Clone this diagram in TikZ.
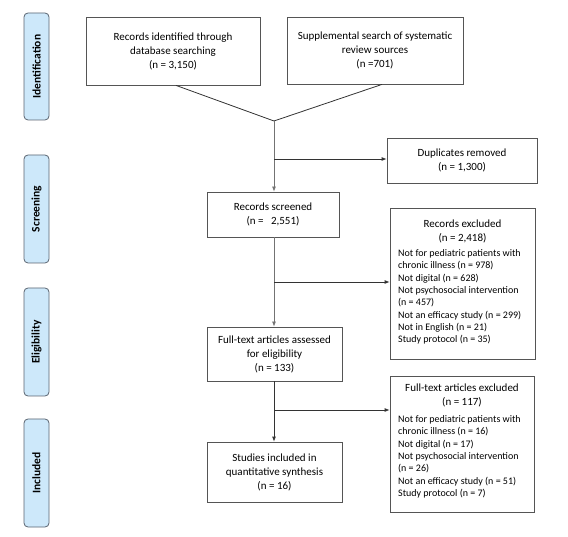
\documentclass[tikz,border=0pt]{standalone}
\usepackage{fontspec}
\setmainfont{Carlito}
\usetikzlibrary{calc,arrows.meta}
\definecolor{sidefill}{HTML}{CDE8FA}
\definecolor{sidedraw}{HTML}{5A6470}
\definecolor{boxdraw}{HTML}{555555}
\tikzset{
  flowbox/.style={draw=boxdraw, line width=0.8pt, align=center, inner sep=2pt,
    font=\fontsize{11}{14}\selectfont},
  sidebox/.style={draw=sidedraw, fill=sidefill, rounded corners=4pt, line width=0.8pt,
    minimum width=107pt, minimum height=25pt, rotate=90,
    font=\fontsize{11.5}{14}\selectfont\bfseries},
  exclbox/.style={draw=boxdraw, line width=0.8pt, inner sep=0pt},
  conn/.style={line width=0.8pt, draw=black!80},
  arr/.style={conn, -{Latex[length=5pt,width=4pt]}},
}
\begin{document}
\begin{tikzpicture}[x=1pt,y=-1pt]
\useasboundingbox (0,0) rectangle (568,537);
% side labels
\node[sidebox] (sid) at (36.5,66.5) {Identification};
\node[sidebox, minimum width=108pt] (sscr) at (36.5,209) {Screening};
\node[sidebox, minimum width=108pt] (selg) at (36.5,342) {Eligibility};
\node[sidebox, minimum width=108pt] (sinc) at (36.5,473) {Included};
% main boxes
\node[flowbox, minimum width=174pt, minimum height=68pt] (b1) at (173,51)
  {Records identified through\\database searching\\(n = 3,150)};
\node[flowbox, minimum width=176pt, minimum height=67pt] (b2) at (375,50.5)
  {Supplemental search of systematic\\review sources\\(n =701)};
\node[flowbox, minimum width=150pt, minimum height=45pt] (dup) at (462,160.5)
  {Duplicates removed\\(n = 1,300)};
\node[flowbox, minimum width=132pt, minimum height=45pt] (scr) at (273,214.5)
  {Records screened\\(n = ~ 2,551)};
\node[flowbox, minimum width=135pt, minimum height=54pt] (ft) at (274.5,354)
  {Full-text articles assessed\\for eligibility\\(n = 133)};
\node[flowbox, minimum width=135pt, minimum height=60pt] (inc) at (274.5,472)
  {Studies included in\\quantitative synthesis\\(n = 16)};
% exclusion boxes
\node[exclbox, minimum width=145pt, minimum height=151pt] (exc) at (462.5,283.5) {};
\node[anchor=north, align=center, font=\fontsize{11}{14}\selectfont, inner sep=0pt] (exct) at (462.5,220)
  {Records excluded\\(n = 2,418)};
\node[anchor=north west, align=left, font=\fontsize{10}{12.3}\selectfont, inner sep=0pt] (excl) at (398,249.5)
  {Not for pediatric patients with\\chronic illness (n = 978)\\Not digital (n = 628)\\Not psychosocial intervention\\(n = 457)\\Not an efficacy study (n = 299)\\Not in English (n = 21)\\Study protocol (n = 35)};
\node[exclbox, minimum width=144pt, minimum height=136pt] (fte) at (462,444) {};
\node[anchor=north, align=center, font=\fontsize{11}{14}\selectfont, inner sep=0pt] (ftet) at (462,384)
  {Full-text articles excluded\\(n = 117)};
\node[anchor=north west, align=left, font=\fontsize{10}{12.3}\selectfont, inner sep=0pt] (ftel) at (398,415.5)
  {Not for pediatric patients with\\chronic illness (n = 16)\\Not digital (n = 17)\\Not psychosocial intervention\\(n = 26)\\Not an efficacy study (n = 51)\\Study protocol (n = 7)};
% connectors
\coordinate (j) at (274,121);
\coordinate (j1) at (274,159);
\coordinate (j2) at (274,282);
\coordinate (j3) at (274,410);
\draw[conn] ([xshift=3pt]b1.south) -- (j);
\draw[conn] ([xshift=7pt]b2.south) -- (j);
\draw[arr, draw=black!55] (j) -- (j|-scr.north);
\draw[arr] (j1) -- (j1-|dup.west);
\draw[arr, draw=black!55] (j|-scr.south) -- (j|-ft.north);
\draw[arr] (j2) -- (j2-|exc.west);
\draw[arr] (j|-ft.south) -- (j|-inc.north);
\draw[arr] (j3) -- (j3-|fte.west);
\end{tikzpicture}
\end{document}
